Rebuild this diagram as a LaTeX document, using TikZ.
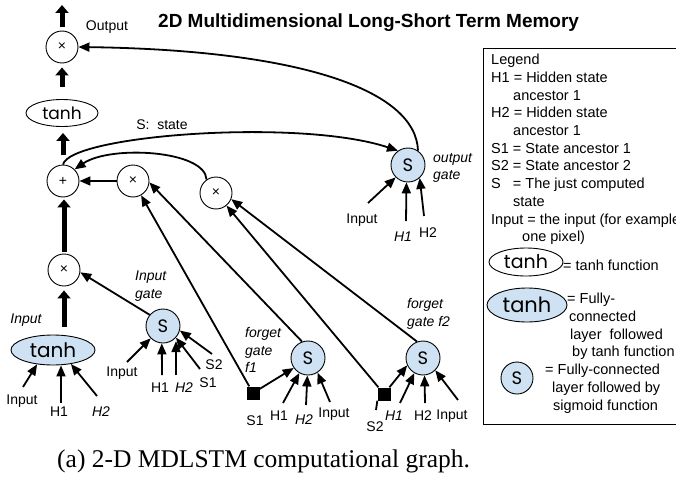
\documentclass[tikz,border=0pt]{standalone}
\usepackage{fontspec}
\setmainfont{Liberation Sans}
\newfontfamily\geofont{Poppins}
\newfontfamily\capfont{Liberation Serif}
\usetikzlibrary{arrows.meta,shapes.geometric}
\definecolor{gatefill}{HTML}{CFE2F3}
\begin{document}
\begin{tikzpicture}[x=1pt,y=-1pt,
  lab/.style={inner sep=0pt,font=\fontsize{14}{17.5}\selectfont},
  ilab/.style={inner sep=0pt,font=\fontsize{14}{17.5}\selectfont\itshape},
  op/.style={circle,draw,line width=0.9pt,minimum size=32pt,inner sep=0pt,font=\fontsize{14}{14}\selectfont},
  sg/.style={circle,draw,fill=gatefill,line width=0.9pt,minimum size=34pt,inner sep=0pt,font=\geofont\fontsize{18}{18}\selectfont},
  sqr/.style={rectangle,fill=black,minimum size=13pt,inner sep=0pt},
  arr/.style={line width=1.8pt,-{Triangle[length=11pt,width=9pt]}},
  fat/.style={line width=5pt,-{Triangle[length=8pt,width=13pt]}},
  plain/.style={line width=1.8pt}]
\useasboundingbox (0,0) rectangle (676,476);
\clip (0,0) rectangle (676,476);

% title
\node[anchor=west,inner sep=0pt,font=\fontsize{19}{19}\selectfont\bfseries] (title) at (158,23)
  {2D Multidimensional Long-Short Term Memory};

% main column of operators
\node[op] (xo) at (62,47) {×};
\node[ellipse,draw,line width=0.9pt,minimum width=72pt,minimum height=27pt,inner sep=0pt,
      font=\geofont\fontsize{17}{17}\selectfont] (th) at (62,113) {tanh};
\node[op] (pl) at (63,181) {+};
\node[op] (xi) at (64,270) {×};
\node[ellipse,draw,fill=gatefill,line width=0.9pt,minimum width=84pt,minimum height=30pt,inner sep=0pt,
      font=\geofont\fontsize{20}{20}\selectfont] (tf) at (53,350) {tanh};
\node[op] (x1) at (133,181) {×};
\node[op] (x2) at (216,193) {×};

% gates
\node[sg] (gi) at (163,326) {S};
\node[sg] (go) at (408,165) {S};
\node[sg] (f1) at (308,358) {S};
\node[sg] (f2) at (423,358) {S};
\node[sqr] (q1) at (253,393) {};
\node[sqr] (q2) at (384,394) {};

% thick flow along the column
\coordinate (outtop) at (62,5);
\draw[fat,shorten <=4pt] (xo.north) -- (outtop);
\draw[fat,shorten <=12pt,shorten >=4pt] (th.north) -- (xo.south);
\draw[fat,shorten <=10pt,shorten >=6pt] (pl.north) -- (pl.north |- th.south);
\draw[fat,shorten <=2pt,shorten >=2pt] (xi.north) -- (xi.north |- pl.south);
\draw[fat,shorten <=8pt,shorten >=4pt] (xi.south |- tf.north) -- (xi.south);

% curved connections
\draw[arr] (go.55) .. controls (416,90) and (300,50) .. (xo.east);
\draw[arr] (pl.north) .. controls (70,135) and (300,118) .. (go.125);
\draw[arr] (x2.125) .. controls (205,150) and (110,145) .. (pl.45);
\draw[arr] (x1) -- (pl);

% forget paths
\draw[arr] (q1) -- (x1);
\draw[arr] (f1.110) -- (x1.-5);
\draw[arr] (q2) -- (x2);
\draw[arr] (f2.110) -- (x2.-22);
\draw[arr] (gi.140) -- (xi.-8);

% labels near the column
\node[lab] (outl) at (107,27) {Output};
\node[lab] (statel) at (162,125) {S:\ \ state};
\node[ilab] (inl) at (26,320) {Input};
\node[ilab,anchor=west,align=left] (igl) at (135,286) {Input\\gate};

% inputs of the tanh layer
\coordinate (tfA) at (23,387);
\coordinate (tfB) at (61,403);
\coordinate (tfC) at (97,396);
\draw[arr] (tfA) -- (tf.222);
\draw[arr] (tfB) -- (tfB |- tf.south);
\draw[arr] (tfC) -- (tf.322);
\node[lab] (tfAl) at (22,401) {Input};
\node[lab] (tfBl) at (59,412) {H1};
\node[ilab] (tfCl) at (101,412) {H2};

% inputs of the input gate
\coordinate (giA) at (127,362);
\coordinate (giB) at (162,375);
\coordinate (giC) at (176,375);
\coordinate (giD) at (200,369);
\coordinate (giE) at (212,354);
\draw[arr] (giA) -- (gi.225);
\draw[arr] (giB) -- (gi.266);
\draw[arr] (giC) -- (giC |- gi.300);
\draw[arr] (giD) -- (gi.318);
\draw[arr] (giE) -- (gi.345);
\node[lab] (giAl) at (122,373) {Input};
\node[lab] (giBl) at (160,388) {H1};
\node[ilab] (giCl) at (184,388) {H2};
\node[lab] (giDl) at (208,383) {S1};
\node[lab] (giEl) at (214,365) {S2};

% forget gate f1
\coordinate (f1A) at (283,403);
\coordinate (f1B) at (306,405);
\coordinate (f1C) at (330,402);
\draw[arr] (q1) -- (f1.215);
\draw[arr] (f1A) -- (f1.240);
\draw[arr] (f1B) -- (f1.268);
\draw[arr] (f1C) -- (f1.303);
\node[lab] (q1l) at (255,421) {S1};
\node[lab] (f1Al) at (279,416) {H1};
\node[ilab] (f1Bl) at (304,420) {H2};
\node[lab] (f1Cl) at (334,414) {Input};
\node[ilab,anchor=west,align=left] (f1l) at (245,350) {forget\\gate\\f1};

% forget gate f2
\coordinate (f2A) at (400,403);
\coordinate (f2B) at (425,403);
\coordinate (f2C) at (458,400);
\coordinate (q2tick) at (376,410);
\draw[plain] (q2.south west) -- (q2tick);
\draw[arr] (q2) -- (f2.205);
\draw[arr] (f2A) -- (f2.240);
\draw[arr] (f2B) -- (f2.275);
\draw[arr] (f2C) -- (f2.315);
\node[lab] (q2l) at (375,427) {S2};
\node[ilab] (f2Al) at (394,416) {H1};
\node[lab] (f2Bl) at (423,416) {H2};
\node[lab] (f2Cl) at (452,416) {Input};
\node[ilab,anchor=west,align=left] (f2l) at (407,314) {forget\\gate f2};

% output gate
\coordinate (goA) at (368,203);
\coordinate (goB) at (406,221);
\coordinate (goC) at (424,216);
\draw[arr] (goA) -- (go.225);
\draw[arr] (goB) -- (go.265);
\draw[arr] (goC) -- (go.312);
\node[lab] (goAl) at (362,220) {Input};
\node[ilab] (goBl) at (403,237) {H1};
\node[lab] (goCl) at (428,233) {H2};
\node[ilab,anchor=west,align=left] (gol) at (433,168) {output\\gate};

% legend
\draw[line width=0.9pt] (483,48) rectangle (690,424);
\node[anchor=north west,align=left,inner sep=0pt,font=\fontsize{14.5}{17.7}\selectfont] (lgtxt) at (491,54)
  {Legend\\
   H1 = Hidden state\\
   \hspace*{22pt}ancestor 1\\
   H2 = Hidden state\\
   \hspace*{22pt}ancestor 1\\
   S1 = State ancestor 1\\
   S2 = State ancestor 2\\
   S\phantom{1} = The just computed\\
   \hspace*{22pt}state\\
   Input = the input (for example\\
   \hspace*{31pt}one pixel)};
\node[ellipse,draw,line width=0.9pt,minimum width=74pt,minimum height=28pt,inner sep=0pt,
      font=\geofont\fontsize{19}{19}\selectfont] (lgth) at (526,262) {tanh};
\node[lab,anchor=west,font=\fontsize{14.5}{17.7}\selectfont] (lgthl) at (563,265) {= tanh function};
\node[ellipse,draw,fill=gatefill,line width=0.9pt,minimum width=80pt,minimum height=34pt,inner sep=0pt,
      font=\geofont\fontsize{21}{21}\selectfont] (lgtf) at (527,305) {tanh};
\node[anchor=north west,align=left,inner sep=0pt,font=\fontsize{14.5}{17.7}\selectfont] (lgtfl) at (567,293)
  {= Fully-\\
   \hspace*{2pt}connected\\
   \hspace*{3pt}layer~ followed\\
   \hspace*{5pt}by tanh function};
\node[sg,minimum size=32pt] (lgs) at (517,378) {S};
\node[anchor=north west,align=left,inner sep=0pt,font=\fontsize{14.5}{17.7}\selectfont] (lgsl) at (545,364)
  {= Fully-connected\\
   \hspace*{7pt}layer followed by\\
   \hspace*{8pt}sigmoid function};

% caption
\node[anchor=base west,inner sep=0pt,font=\capfont\fontsize{25.5}{25.5}\selectfont] (cap) at (57,467)
  {(a) 2-D MDLSTM computational graph.};
\end{tikzpicture}
\end{document}
